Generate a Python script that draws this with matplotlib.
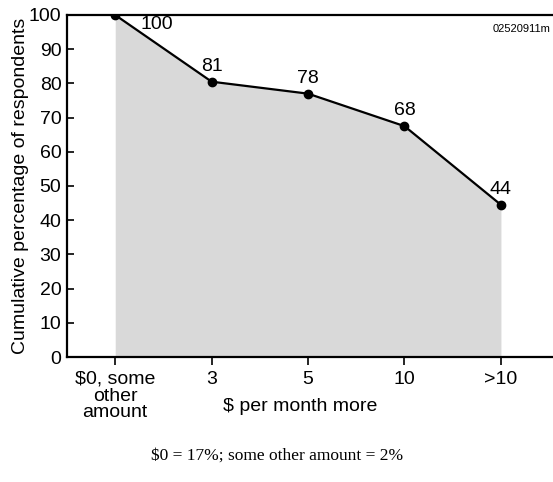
import matplotlib
matplotlib.use("Agg")
import matplotlib.pyplot as plt

# categorias del eje x y valores
categories = ["$0, some\nother\namount", "3", "5", "10", ">10"]
cum_pct = [100, 80.5, 77, 67.5, 44.5]
pct_labels = ["100", "81", "78", "68", "44"]

plt.rcParams['font.family'] = ['Liberation Sans', 'DejaVu Sans']
fs = 14

fig = plt.figure(figsize=(5.53, 4.82), dpi=100)
ax = fig.add_axes([67 / 553, 125 / 482, 1 - 67 / 553, 342 / 482])

x = list(range(len(categories)))
ax.fill_between(x, cum_pct, 0, color='#d9d9d9', lw=0, zorder=1)
ax.plot(x, cum_pct, color='black', lw=1.6, marker='o', ms=6, zorder=3)

# etiquetas de los puntos
for i, (v, t) in enumerate(zip(cum_pct, pct_labels)):
    if i == 0:
        ax.annotate(t, (i, v), xytext=(18, -1), textcoords='offset points',
                    ha='left', va='top', fontsize=fs)
    else:
        ax.annotate(t, (i, v), xytext=(0, 5), textcoords='offset points',
                    ha='center', va='bottom', fontsize=fs)

ax.set_xlim(-0.5, 4.54)
ax.set_ylim(0, 100)
ax.set_yticks(range(0, 101, 10))
ax.set_xticks(x)
ax.set_xticklabels(categories, fontsize=fs, linespacing=0.98)
ax.tick_params(axis='y', direction='in', length=5, width=1.2, labelsize=fs, pad=4)
ax.tick_params(axis='x', direction='out', length=6, width=1.2, pad=4)

for s in ['left', 'top', 'bottom']:
    ax.spines[s].set_linewidth(1.6)
ax.spines['right'].set_visible(False)

ax.set_ylabel("Cumulative percentage of respondents", fontsize=fs, labelpad=0)
ax.text(0.48, -0.145, "$ per month more", transform=ax.transAxes,
        ha='center', va='center', fontsize=fs)
ax.text(0.995, 0.975, "02520911m", transform=ax.transAxes,
        ha='right', va='top', fontsize=8)

fig.text(277 / 553, 1 - 456 / 482, "$0 = 17%; some other amount = 2%",
         ha='center', va='center', fontsize=12.5, family='Liberation Serif')

fig.savefig("out.png", dpi=100)
